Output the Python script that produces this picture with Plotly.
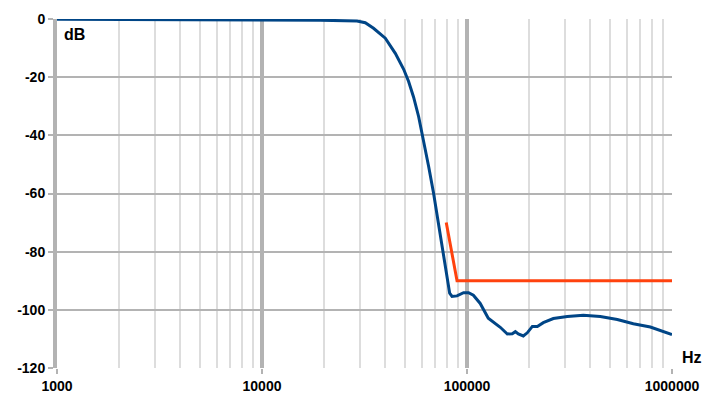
import plotly.graph_objects as go

# Measured response (Hz, dB)
freq = [1000, 5000, 10000, 19250, 29080, 31900, 35000, 39950, 44700, 49100, 51900,
        54900, 58100, 60300, 62600, 65000, 68700, 72700, 76900, 79900, 82300,
        84500, 89400, 96200, 101800, 107400, 116000, 127000, 137400, 145300, 157300,
        166300, 172100, 178000, 188200, 196800, 208300, 220400, 235600, 263700,
        308500, 369300, 446900, 541000, 647600, 783900, 1000000]
gain = [-0.1, -0.15, -0.2, -0.4, -0.7, -1.3, -3.2, -6.6, -11.8, -17.3, -21.5,
        -26.9, -33.6, -39.3, -43.9, -50.7, -59.9, -70.2, -80.5, -88.5, -94.3,
        -95.4, -95.2, -94.1, -94.1, -95, -97.8, -102.9, -104.6, -106, -108.3,
        -108.2, -107.5, -108.3, -109, -107.9, -105.7, -105.7, -104.4, -103,
        -102.3, -101.9, -102.3, -103.3, -104.8, -105.9, -108.5]

# Limit mask
mask_freq = [79200, 89400, 1000000]
mask_gain = [-70, -90, -90]

y_ticks = [0, -20, -40, -60, -80, -100, -120]
x_ticks = [1000, 10000, 100000, 1000000]

fig = go.Figure()
fig.add_trace(go.Scatter(x=mask_freq, y=mask_gain, mode="lines",
                         line=dict(color="#ff420e", width=3), showlegend=False))
fig.add_trace(go.Scatter(x=freq, y=gain, mode="lines",
                         line=dict(color="#004586", width=3), showlegend=False))

tickfont = dict(family="Liberation Sans", size=14, color="black", weight="bold")

fig.update_layout(
    width=708, height=396,
    margin=dict(l=57, r=36, t=19, b=28),
    plot_bgcolor="white", paper_bgcolor="white",
    xaxis=dict(type="log", range=[3, 6], automargin=False,
               tickvals=x_ticks, ticktext=[str(v) for v in x_ticks],
               showgrid=True, gridcolor="#b3b3b3", gridwidth=4,
               ticks="outside", ticklen=5, tickcolor="#b3b3b3", tickwidth=2,
               minor=dict(showgrid=True, gridcolor="#dddddd", gridwidth=2, dtick="D1"),
               zeroline=False, showline=False, tickfont=tickfont),
    yaxis=dict(range=[-120, 0], automargin=False,
               tickvals=y_ticks, ticktext=[str(v) for v in y_ticks],
               showgrid=True, gridcolor="#b3b3b3", gridwidth=2,
               ticks="outside", ticklen=5, tickcolor="#b3b3b3", tickwidth=2,
               zeroline=False, showline=True, linecolor="#b3b3b3", linewidth=4,
               tickfont=tickfont),
    annotations=[
        dict(text="dB", x=0.008, y=0.985, xref="paper", yref="paper",
             xanchor="left", yanchor="top", showarrow=False,
             font=dict(family="Liberation Sans", size=16, color="black", weight="bold")),
        dict(text="Hz", x=1.013, y=0.029, xref="paper", yref="paper",
             xanchor="left", yanchor="middle", showarrow=False,
             font=dict(family="Liberation Sans", size=16, color="black", weight="bold")),
    ],
)

fig.write_html("out.html", config={"displayModeBar": False},
               post_script="document.body.style.margin='0';document.body.style.padding='0';")
